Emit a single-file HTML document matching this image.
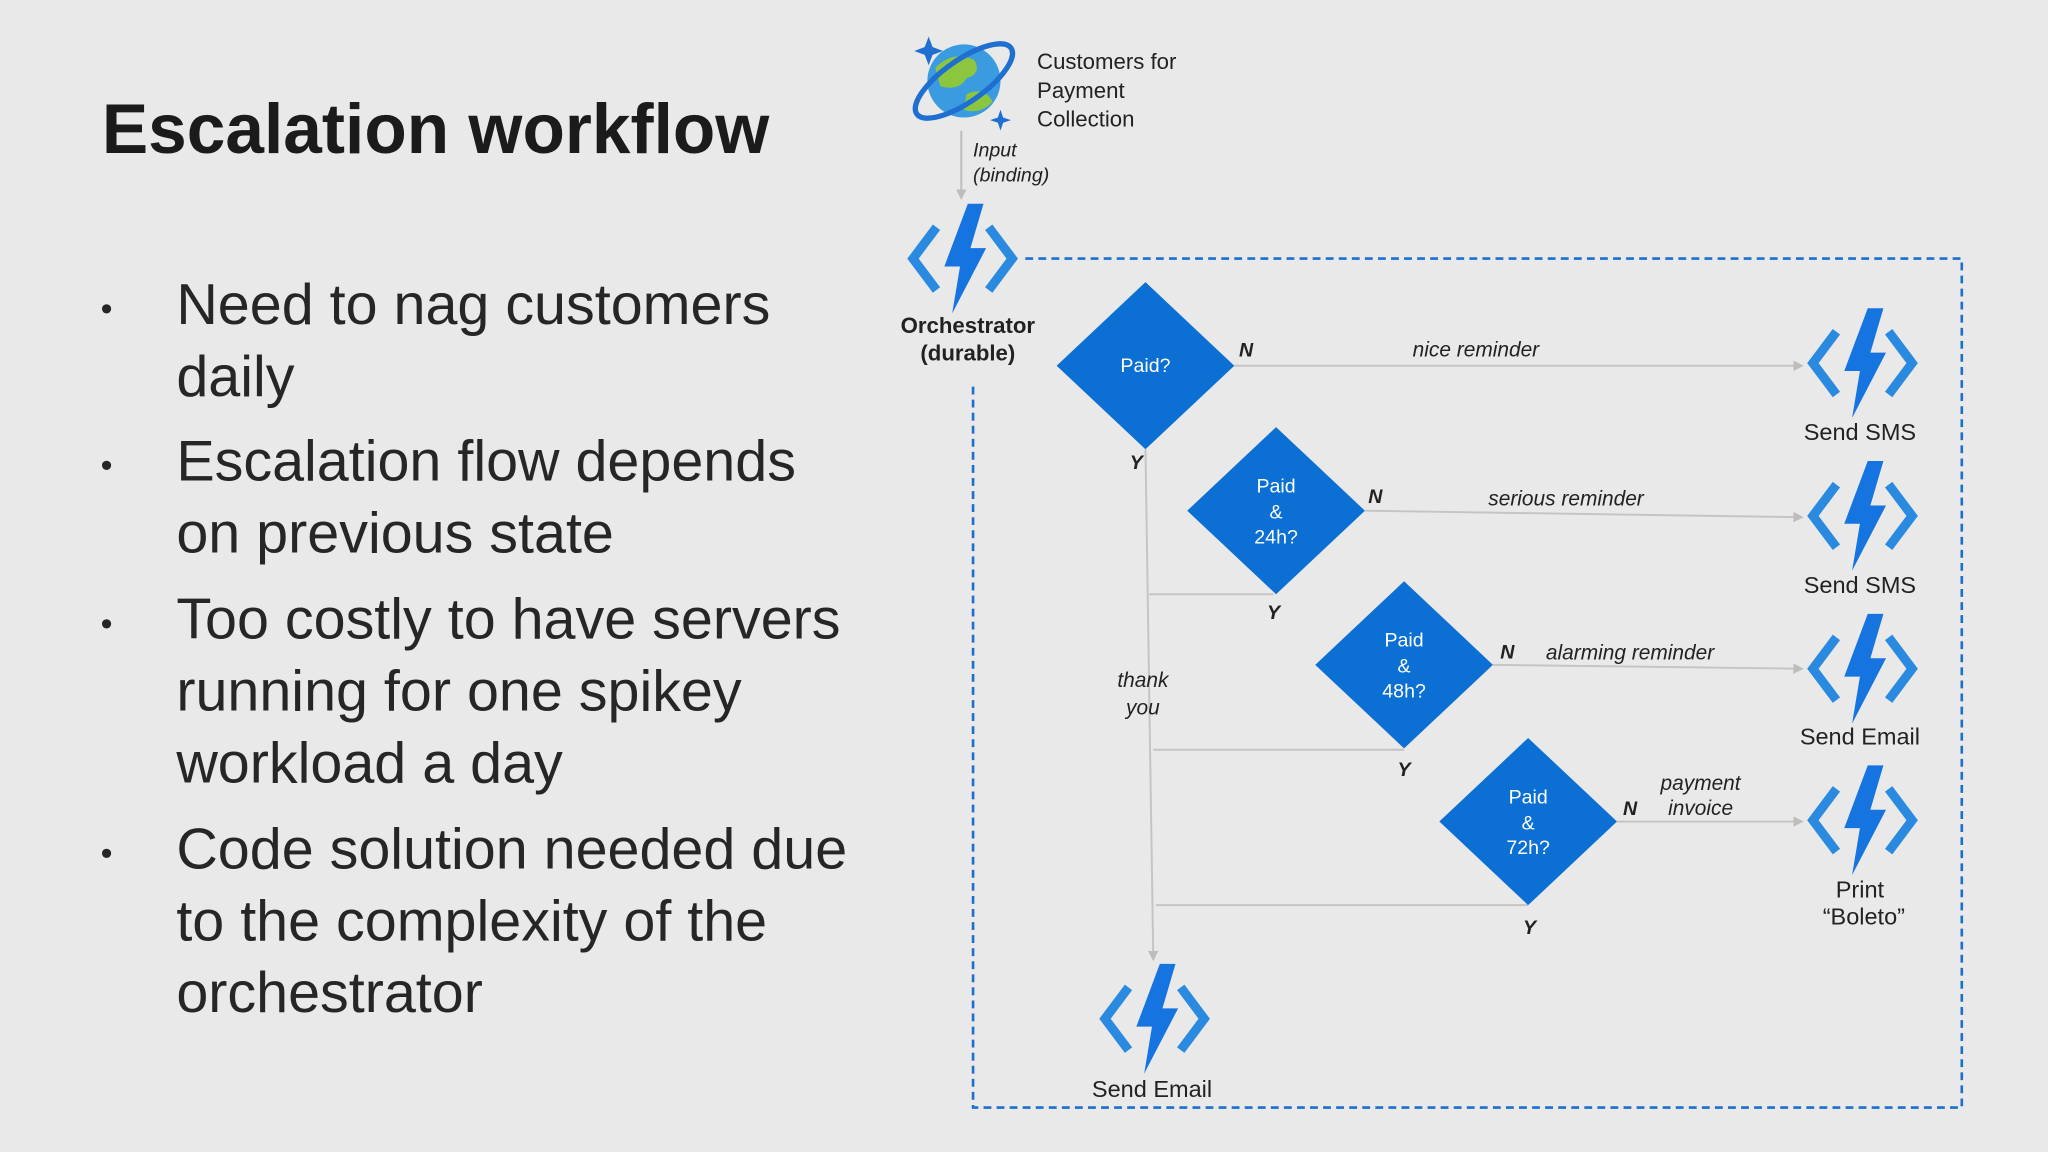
<!DOCTYPE html>
<html><head><meta charset="utf-8"><style>
html,body{margin:0;padding:0;background:#e9e9e9;}
svg{display:block}
text{font-family:"Liberation Sans",sans-serif;}
</style></head><body>
<svg width="2048" height="1152" viewBox="0 0 1568 882" xmlns="http://www.w3.org/2000/svg">
<defs>
<g id="fn">
  <polyline points="-20,-24 -38,0 -20,24" fill="none" stroke="#2a8ae0" stroke-width="7" stroke-linejoin="miter"/>
  <polyline points="20,-24 38,0 20,24" fill="none" stroke="#2a8ae0" stroke-width="7" stroke-linejoin="miter"/>
  <polygon points="4,-42 16,-42 6,-8 18,-8 -8,42 -2,6 -14,6" fill="#1674e0"/>
</g>
<marker id="ar" markerWidth="8" markerHeight="8" refX="7" refY="4" orient="auto" markerUnits="userSpaceOnUse">
  <path d="M0,0 L8,4 L0,8 z" fill="#bdbdbd"/>
</marker>
</defs>
<rect width="1568" height="882" fill="#e9e9e9"/>

<text x="78" y="117" font-size="54" font-weight="bold" fill="#1b1b1b" textLength="511" lengthAdjust="spacingAndGlyphs">Escalation workflow</text>
<g font-size="44" fill="#262626">
<text x="77" y="245" font-size="26">•</text>
<text x="135" y="248">Need to nag customers</text>
<text x="135" y="303">daily</text>
<text x="77" y="365" font-size="26">•</text>
<text x="135" y="368">Escalation flow depends</text>
<text x="135" y="423">on previous state</text>
<text x="77" y="486" font-size="26">•</text>
<text x="135" y="489">Too costly to have servers</text>
<text x="135" y="544">running for one spikey</text>
<text x="135" y="599">workload a day</text>
<text x="77" y="662" font-size="26">•</text>
<text x="135" y="665">Code solution needed due</text>
<text x="135" y="720">to the complexity of the</text>
<text x="135" y="775">orchestrator</text>
</g>

<!-- cosmos icon -->
<circle cx="738" cy="62" r="28" fill="#3a9be0"/>
<path d="M716,52 q14,-14 30,-6 q6,10 -6,14 q-6,10 -20,6 z" fill="#8cc63f"/>
<path d="M740,72 q14,-6 20,6 q-10,10 -22,6 z" fill="#8cc63f"/>
<ellipse cx="738" cy="62" rx="44" ry="16" transform="rotate(-35 738 62)" fill="none" stroke="#1f6fd1" stroke-width="4"/>
<path d="M711,28 l3,8 8,3 -8,3 -3,8 -3,-8 -8,-3 8,-3z" fill="#1f6fd1"/>
<path d="M766,84 l2,6 6,2 -6,2 -2,6 -2,-6 -6,-2 6,-2z" fill="#1f6fd1"/>
<g font-size="17" fill="#222"><text x="794" y="53">Customers for</text><text x="794" y="75">Payment</text><text x="794" y="97">Collection</text></g>
<line x1="736" y1="100" x2="736" y2="152" stroke="#bdbdbd" stroke-width="1.5" marker-end="url(#ar)"/>
<g font-size="15" font-style="italic" fill="#222"><text x="745" y="120">Input</text><text x="745" y="139">(binding)</text></g>

<use href="#fn" x="737" y="198"/>
<g font-size="17" font-weight="bold" fill="#222" text-anchor="middle"><text x="741" y="255">Orchestrator</text><text x="741" y="276">(durable)</text></g>

<path d="M785,198 H1502 V848 H745 V292" fill="none" stroke="#1a6fd0" stroke-width="2" stroke-dasharray="6,4"/>

<g stroke="#c4c4c4" stroke-width="1.5" fill="none">
<line x1="945" y1="280" x2="1380" y2="280" marker-end="url(#ar)"/>
<line x1="1045" y1="391" x2="1380" y2="396" marker-end="url(#ar)"/>
<line x1="1143" y1="509" x2="1380" y2="512" marker-end="url(#ar)"/>
<line x1="1238" y1="629" x2="1380" y2="629" marker-end="url(#ar)"/>
<line x1="877" y1="344" x2="883" y2="735" marker-end="url(#ar)"/>
<line x1="880" y1="455" x2="975" y2="455"/>
<line x1="883" y1="574" x2="1075" y2="574"/>
<line x1="885" y1="693" x2="1170" y2="693"/>
</g>

<g fill="#0b6fd3">
<polygon points="877,216 945,280 877,344 809,280"/>
<polygon points="977,327 1045,391 977,455 909,391"/>
<polygon points="1075,445 1143,509 1075,573 1007,509"/>
<polygon points="1170,565 1238,629 1170,693 1102,629"/>
</g>
<g font-size="15" fill="#fff" text-anchor="middle">
<text x="877" y="285">Paid?</text>
<text x="977" y="377">Paid</text><text x="977" y="397">&amp;</text><text x="977" y="416">24h?</text>
<text x="1075" y="495">Paid</text><text x="1075" y="515">&amp;</text><text x="1075" y="534">48h?</text>
<text x="1170" y="615">Paid</text><text x="1170" y="635">&amp;</text><text x="1170" y="654">72h?</text>
</g>
<g font-size="15" font-weight="bold" font-style="italic" fill="#222" text-anchor="middle">
<text x="954" y="273">N</text><text x="1053" y="385">N</text><text x="1154" y="504">N</text><text x="1248" y="624">N</text>
<text x="870" y="359">Y</text><text x="975" y="474">Y</text><text x="1075" y="594">Y</text><text x="1171" y="715">Y</text>
</g>
<g font-size="16" font-style="italic" fill="#222" text-anchor="middle">
<text x="1130" y="273">nice reminder</text>
<text x="1199" y="387">serious reminder</text>
<text x="1248" y="505">alarming reminder</text>
<text x="1302" y="605">payment</text><text x="1302" y="624">invoice</text>
<text x="875" y="526">thank</text><text x="875" y="547">you</text>
</g>

<use href="#fn" x="1426" y="278"/>
<use href="#fn" x="1426" y="395"/>
<use href="#fn" x="1426" y="512"/>
<use href="#fn" x="1426" y="628"/>
<use href="#fn" x="884" y="780"/>
<g font-size="18" fill="#222" text-anchor="middle">
<text x="1424" y="337">Send SMS</text>
<text x="1424" y="454">Send SMS</text>
<text x="1424" y="570">Send Email</text>
<text x="1424" y="687">Print</text>
<text x="1427" y="708">“Boleto”</text>
<text x="882" y="840">Send Email</text>
</g>
</svg>
</body></html>
